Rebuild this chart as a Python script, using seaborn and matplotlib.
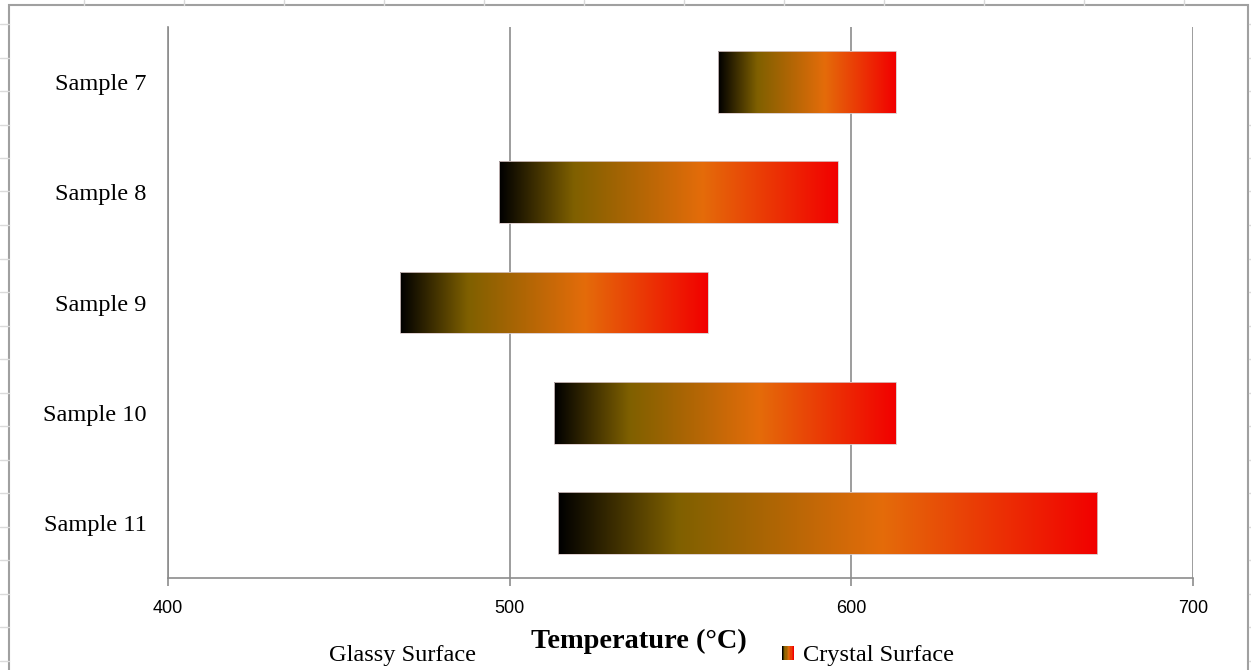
import numpy as np
import pandas as pd
import matplotlib
matplotlib.use("Agg")
import matplotlib.pyplot as plt
import seaborn as sns
from matplotlib.colors import LinearSegmentedColormap
from matplotlib.patches import Rectangle, Patch
from matplotlib.lines import Line2D
from matplotlib.legend_handler import HandlerBase

# ---- data ----
samples = ["Sample 7", "Sample 8", "Sample 9", "Sample 10", "Sample 11"]
glassy_end = [561, 497, 468, 513, 514]      # start of crystallisation (°C)
crystal_end = [613, 596, 558, 613, 672]     # fully crystal surface (°C)
x_ticks = [400, 500, 600, 700]
series_labels = ["Glassy Surface", "Crystal Surface"]
x_label = "Temperature (°C)"

grad_colors = ["#000000", "#7f6000", "#e46c0a", "#f20000"]
grad_stops = [0.0, 0.22, 0.60, 1.0]
cmap = LinearSegmentedColormap.from_list("glasscryst", list(zip(grad_stops, grad_colors)))

df = pd.DataFrame({
    "sample": samples,
    "start": glassy_end,
    "span": np.array(crystal_end) - np.array(glassy_end),
})

sns.set_style("white")
plt.rcParams["font.family"] = ["Liberation Serif", "DejaVu Serif"]
plt.rcParams["text.color"] = "black"
plt.rcParams["xtick.labelcolor"] = "black"
plt.rcParams["ytick.labelcolor"] = "black"
plt.rcParams["axes.labelcolor"] = "black"

W, H = 1251, 670
fig = plt.figure(figsize=(W / 100, H / 100), dpi=100)
ax = fig.add_axes([168 / W, 1 - 578 / H, (1193 - 168) / W, (578 - 27) / H])

grid_c = "#8c8c8c"
sns.barplot(data=df, x="span", y="sample", orient="h", left=df["start"],
            width=0.56, errorbar=None, color="#f20000",
            edgecolor="#d8c8c8", linewidth=0.6, ax=ax, zorder=3)

grad = np.linspace(0, 1, 256).reshape(1, -1)
for p in ax.patches:
    x0, y0 = p.get_x(), p.get_y()
    w, h = p.get_width(), p.get_height()
    p.set_facecolor("none")
    im = ax.imshow(grad, cmap=cmap, aspect="auto", interpolation="bilinear",
                   extent=(x0, x0 + w, y0 + h, y0), zorder=2)
    im.set_clip_path(p)

ax.set_xlim(400, 700)
ax.set_ylim(4.5, -0.5)
ax.set_xticks(x_ticks)
ax.set_axisbelow(True)
ax.grid(axis="x", color=grid_c, linewidth=1.2)
ax.grid(axis="y", visible=False)
for s in ["top", "right"]:
    ax.spines[s].set_visible(False)
for s in ["left", "bottom"]:
    ax.spines[s].set_color(grid_c)
    ax.spines[s].set_linewidth(1.2)

ax.tick_params(axis="x", bottom=True, length=5.5, width=1.2, color=grid_c,
               pad=10.5, labelsize=13)
for lab in ax.get_xticklabels():
    lab.set_family(["Liberation Sans", "DejaVu Sans"])
ax.tick_params(axis="y", left=False, pad=12, labelsize=17.6)
ax.set_ylabel("")
ax.set_xlabel(x_label, fontsize=20.4, fontweight="bold",
              family=["Liberation Serif", "DejaVu Serif"])
ax.xaxis.label.set_va("center")
ax.xaxis.set_label_coords((639 - 168) / (1193 - 168), (578 - 641) / (578 - 27))


class GradHandler(HandlerBase):
    def create_artists(self, legend, orig_handle, xdescent, ydescent,
                       width, height, fontsize, trans):
        n = 10
        arts = []
        for i in range(n):
            r = Rectangle((-xdescent + i * width / n, -ydescent), width / n * 1.05, height,
                          facecolor=cmap(i / (n - 1)), edgecolor="none", transform=trans)
            arts.append(r)
        return arts


h_glassy = Patch(facecolor="none", edgecolor="none")
h_crystal = Patch(facecolor="#f20000")
fig.legend([h_glassy, h_crystal], series_labels, ncol=2, frameon=False,
           loc="center", bbox_to_anchor=(631 / W, 1 - 656 / H),
           fontsize=17.6, handlelength=0.5, handleheight=0.5, handletextpad=0.36,
           columnspacing=12.5, borderpad=0.0,
           handler_map={h_crystal: GradHandler()})

# chart frame and surrounding sheet grid marks
frame_c = "#a0a0a0"
fig.add_artist(Rectangle((9 / W, -0.05), (1248 - 9) / W, 1.05 - 5 / H,
                         transform=fig.transFigure, fill=False,
                         edgecolor=frame_c, linewidth=1.5))
cell_c = "#dadada"
for xp in range(84, 1251, 100):
    fig.add_artist(Line2D([xp / W, xp / W], [1, 1 - 5 / H], transform=fig.transFigure,
                          color=cell_c, linewidth=1))
for k in range(20):
    yp = 24 + k * 33.5
    fig.add_artist(Line2D([0, 9 / W], [1 - yp / H, 1 - yp / H], transform=fig.transFigure,
                          color=cell_c, linewidth=1))
    fig.add_artist(Line2D([1249 / W, 1], [1 - yp / H, 1 - yp / H], transform=fig.transFigure,
                          color=cell_c, linewidth=1))

fig.savefig("out.png", dpi=100)
